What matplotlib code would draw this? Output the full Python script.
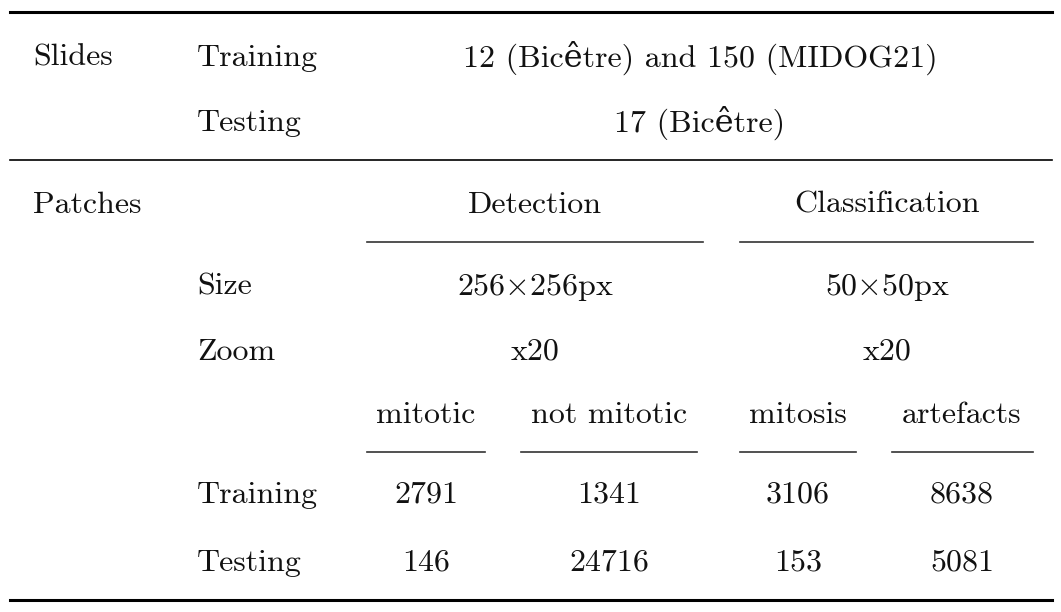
import matplotlib
matplotlib.use("Agg")
import matplotlib.pyplot as plt

plt.rcParams['font.family'] = ['cmr10', 'DejaVu Serif']
plt.rcParams['mathtext.fontset'] = 'cm'
plt.rcParams['axes.formatter.use_mathtext'] = True

slide_rows = ["Training", "Testing"]
slide_vals = ["12 (Bicêtre) and 150 (MIDOG21)", "17 (Bicêtre)"]
groups = ["Detection", "Classification"]
sizes = [r"256$\times$256px", r"50$\times$50px"]
zooms = ["x20", "x20"]
subcols = ["mitotic", "not mitotic", "mitosis", "artefacts"]
patch_rows = ["Training", "Testing"]
counts = [[2791, 1341, 3106, 8638], [146, 24716, 153, 5081]]

fig = plt.figure(figsize=(10.61, 6.12), dpi=100)
ax = fig.add_axes([0, 0, 1, 1])
ax.set_xlim(0, 1061); ax.set_ylim(612, 0); ax.axis('off')
fs = 23
def t(x, y, s, ha='left'):
    ax.text(x, y, s, ha=ha, va='center', fontsize=fs, color='#111')

ax.plot([10, 1052], [12, 12], color='k', lw=2.2)
ax.plot([10, 1052], [160, 160], color='k', lw=1.2)
ax.plot([10, 1052], [600, 600], color='k', lw=2.2)

t(33, 58, "Slides")
for y, r, v in zip([58, 123], slide_rows, slide_vals):
    t(197, y, r); t(700, y, v, 'center')

t(33, 205, "Patches")
gc = [535, 887]
gspan = [(367, 703), (740, 1033)]
for c, g, (a, b) in zip(gc, groups, gspan):
    t(c, 205, g, 'center')
    ax.plot([a, b], [242, 242], color='#333', lw=1.2)
t(197, 287, "Size"); t(197, 352, "Zoom")
for c, s, z in zip(gc, sizes, zooms):
    t(c, 287, s, 'center'); t(c, 352, z, 'center')
sc = [426, 609, 798, 962]
sspan = [(367, 485), (521, 697), (740, 856), (892, 1033)]
for c, s, (a, b) in zip(sc, subcols, sspan):
    t(c, 415, s, 'center')
    ax.plot([a, b], [452, 452], color='#333', lw=1.2)
for y, r, row in zip([495, 563], patch_rows, counts):
    t(197, y, r)
    for c, v in zip(sc, row):
        t(c, y, str(v), 'center')

fig.savefig("out.png", dpi=100)
